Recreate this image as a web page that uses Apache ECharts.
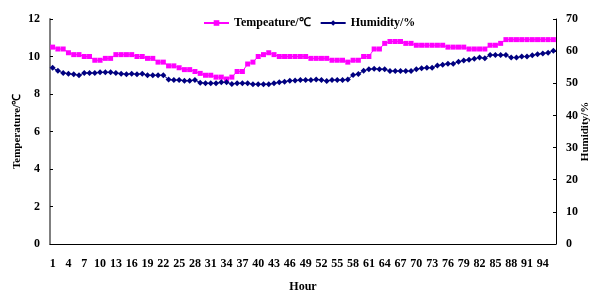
<!DOCTYPE html>
<html>
<head>
<meta charset="utf-8">
<script src="https://cdn.jsdelivr.net/npm/echarts@6/dist/echarts.min.js"></script>
<style>html,body{margin:0;padding:0;background:#fff;}#c{width:592px;height:291px;}</style>
</head>
<body>
<div id="c"></div>
<script>
var hours = [1,2,3,4,5,6,7,8,9,10,11,12,13,14,15,16,17,18,19,20,21,22,23,24,25,26,27,28,29,30,31,32,33,34,35,36,37,38,39,40,41,42,43,44,45,46,47,48,49,50,51,52,53,54,55,56,57,58,59,60,61,62,63,64,65,66,67,68,69,70,71,72,73,74,75,76,77,78,79,80,81,82,83,84,85,86,87,88,89,90,91,92,93,94,95,96];
var temperature = [10.5,10.4,10.4,10.2,10.1,10.1,10.0,10.0,9.8,9.8,9.9,9.9,10.1,10.1,10.1,10.1,10.0,10.0,9.9,9.9,9.7,9.7,9.5,9.5,
  9.4,9.3,9.3,9.2,9.1,9.0,9.0,8.9,8.9,8.8,8.9,9.2,9.2,9.6,9.7,10.0,10.1,10.2,10.1,10.0,10.0,10.0,10.0,
  10.0,10.0,9.9,9.9,9.9,9.9,9.8,9.8,9.8,9.7,9.8,9.8,10.0,10.0,10.4,10.4,10.7,10.8,10.8,10.8,10.7,10.7,10.6,
  10.6,10.6,10.6,10.6,10.6,10.5,10.5,10.5,10.5,10.4,10.4,10.4,10.4,10.6,10.6,10.7,10.9,10.9,10.9,10.9,10.9,10.9,10.9,10.9,10.9,10.9];
var humidity = [54.8,53.9,53.2,53.0,52.8,52.5,53.2,53.2,53.2,53.4,53.4,53.4,53.2,53.0,52.8,53.0,52.8,53.0,52.5,52.5,52.5,52.5,51.2,51.0,
  51.0,50.8,50.8,51.0,50.2,50.0,50.0,50.0,50.3,50.3,49.8,50.0,50.0,50.0,49.7,49.7,49.7,49.7,50.0,50.3,50.5,50.8,50.9,
  51.0,51.0,51.0,51.2,51.0,50.7,51.0,51.0,51.0,51.2,52.6,52.9,53.9,54.4,54.5,54.4,54.4,53.8,53.8,53.8,53.8,53.8,54.4,
  54.7,54.8,54.8,55.5,55.8,56.1,56.1,56.7,57.1,57.3,57.6,58.0,57.8,58.8,58.8,58.8,58.8,58.0,58.0,58.3,58.3,58.7,59.0,59.3,59.5,60.1];
var tempName = 'Tempeature/℃';
var humName = 'Humidity/%';

var font = 'Liberation Serif, Times New Roman, serif';
var chart = echarts.init(document.getElementById('c'), null, {renderer: 'canvas'});
chart.setOption({
  animation: false,
  backgroundColor: '#ffffff',
  textStyle: {fontFamily: font},
  legend: {
    left: 198, top: 12, itemWidth: 25, itemHeight: 7, itemGap: 9,
    textStyle: {fontFamily: font, fontWeight: 'bold', fontSize: 12, color: '#000'},
    data: [tempName, humName]
  },
  grid: {left: 50, right: 36, top: 19, bottom: 47, containLabel: false, outerBoundsMode: 'none'},
  xAxis: {
    type: 'category', data: hours, boundaryGap: true,
    name: 'Hour', nameLocation: 'middle', nameGap: 37, nameMoveOverlap: false,
    nameTextStyle: {fontFamily: font, fontWeight: 'bold', fontSize: 12, color: '#000'},
    axisLine: {lineStyle: {color: '#000', width: 1}},
    axisTick: {inside: true, length: 3, interval: 0, lineStyle: {color: '#000'}},
    axisLabel: {interval: 2, margin: 14, fontFamily: font, fontWeight: 'bold', fontSize: 12, color: '#000'},
    splitLine: {show: false}
  },
  yAxis: [{
    type: 'value', min: 0, max: 12, interval: 2, position: 'left',
    name: 'Temperature/℃', nameLocation: 'middle', nameGap: 27, nameRotate: 90, nameMoveOverlap: false,
    nameTextStyle: {fontFamily: font, fontWeight: 'bold', fontSize: 11, color: '#000'},
    axisLine: {show: true, lineStyle: {color: '#808080', width: 2}},
    axisTick: {show: true, inside: true, length: 3, lineStyle: {color: '#000'}},
    axisLabel: {margin: 10, fontFamily: font, fontWeight: 'bold', fontSize: 12, color: '#000'},
    splitLine: {show: false}
  }, {
    type: 'value', min: 0, max: 70, interval: 10, position: 'right',
    name: 'Humidity/%', nameLocation: 'middle', nameGap: 24, nameRotate: 90, nameMoveOverlap: false,
    nameTextStyle: {fontFamily: font, fontWeight: 'bold', fontSize: 11, color: '#000'},
    axisLine: {show: true, lineStyle: {color: '#000', width: 1}},
    axisTick: {show: true, inside: true, length: 3, lineStyle: {color: '#000'}},
    axisLabel: {margin: 10, fontFamily: font, fontWeight: 'bold', fontSize: 12, color: '#000'},
    splitLine: {show: false}
  }],
  series: [{
    name: tempName, type: 'line', yAxisIndex: 0, data: temperature,
    symbol: 'rect', symbolSize: 5, showAllSymbol: true,
    itemStyle: {color: '#FF00FF'}, lineStyle: {color: '#FF00FF', width: 1}
  }, {
    name: humName, type: 'line', yAxisIndex: 1, data: humidity,
    symbol: 'diamond', symbolSize: 6, showAllSymbol: true,
    itemStyle: {color: '#000080'}, lineStyle: {color: '#000080', width: 1}
  }]
});
</script>
</body>
</html>
